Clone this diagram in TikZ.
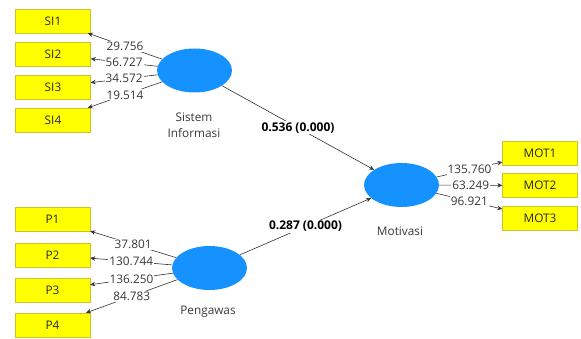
\documentclass[tikz,border=0pt]{standalone}
\usepackage{fontspec}
\setmainfont{Open Sans}
\usepackage{tikz}
\usetikzlibrary{arrows.meta}
\usetikzlibrary{shapes.geometric}
\definecolor{latentblue}{RGB}{22, 146, 255}
\definecolor{indyellow}{RGB}{255, 255, 0}
\definecolor{indborder}{RGB}{205, 195, 40}
\definecolor{linegray}{RGB}{50, 50, 50}
\definecolor{textgray}{RGB}{55, 55, 55}

\begin{document}
\begin{tikzpicture}[x=1pt, y=-1pt, font=\fontsize{11.8}{13}\selectfont,
        latent/.style = {ellipse, fill=latentblue, minimum width=75pt, minimum height=44pt, inner sep=0pt},
        indicator/.style = {draw=indborder, fill=indyellow, minimum width=75pt, minimum height=24pt, inner sep=0pt, text=black!85},
        loading/.style = {draw=linegray, line width=0.6pt, -{Stealth[length=5pt, width=4.5pt]}},
        weight/.style = {fill=white, inner sep=1pt, text=textgray},
        coef/.style = {fill=white, inner sep=1pt, text=black, font=\bfseries\fontsize{12}{13}\selectfont},
        caption/.style = {text=textgray, align=center, font=\fontsize{11.8}{16}\selectfont}]
        \useasboundingbox (0,0) rectangle (581,339);
        % latent variables
        \node[latent] (sisinf) at (194.5, 70.5) {};
        \node[latent] (pengawas) at (209.5, 268) {};
        \node[latent] (motivasi) at (401.5, 185) {};
        \node[caption] (sisinflbl) at (194, 125) {Sistem\\Informasi};
        \node[caption] (pengawaslbl) at (208, 312) {Pengawas};
        \node[caption] (motivasilbl) at (400, 231) {Motivasi};
        % indicators
        \node[indicator] (si1) at (53, 21) {SI1};
        \node[indicator] (si2) at (53, 54.5) {SI2};
        \node[indicator] (si3) at (53, 87) {SI3};
        \node[indicator] (si4) at (53, 120) {SI4};
        \node[indicator] (p1) at (52.5, 219.5) {P1};
        \node[indicator] (p2) at (52.5, 255) {P2};
        \node[indicator] (p3) at (52.5, 290) {P3};
        \node[indicator] (p4) at (52.5, 325) {P4};
        \node[indicator] (mot1) at (540, 153.5) {MOT1};
        \node[indicator] (mot2) at (540, 185.5) {MOT2};
        \node[indicator] (mot3) at (540, 218) {MOT3};
        % outer loadings
        \draw[loading] (sisinf) -- node[weight] {29.756} (si1);
        \draw[loading] (sisinf) -- node[weight] {56.727} (si2);
        \draw[loading] (sisinf) -- node[weight] {34.572} (si3);
        \draw[loading] (sisinf) -- node[weight] {19.514} (si4);
        \draw[loading] (pengawas) -- node[weight] {37.801} (p1);
        \draw[loading] (pengawas) -- node[weight] {130.744} (p2);
        \draw[loading] (pengawas) -- node[weight] {136.250} (p3);
        \draw[loading] (pengawas) -- node[weight] {84.783} (p4);
        \draw[loading] (motivasi) -- node[weight] {135.760} (mot1);
        \draw[loading] (motivasi) -- node[weight] {63.249} (mot2);
        \draw[loading] (motivasi) -- node[weight] {96.921} (mot3);
        % path coefficients
        \draw[loading] (sisinf) -- node[coef] {0.536 (0.000)} (motivasi);
        \draw[loading] (pengawas) -- node[coef] {0.287 (0.000)} (motivasi);
    \end{tikzpicture}
\end{document}
